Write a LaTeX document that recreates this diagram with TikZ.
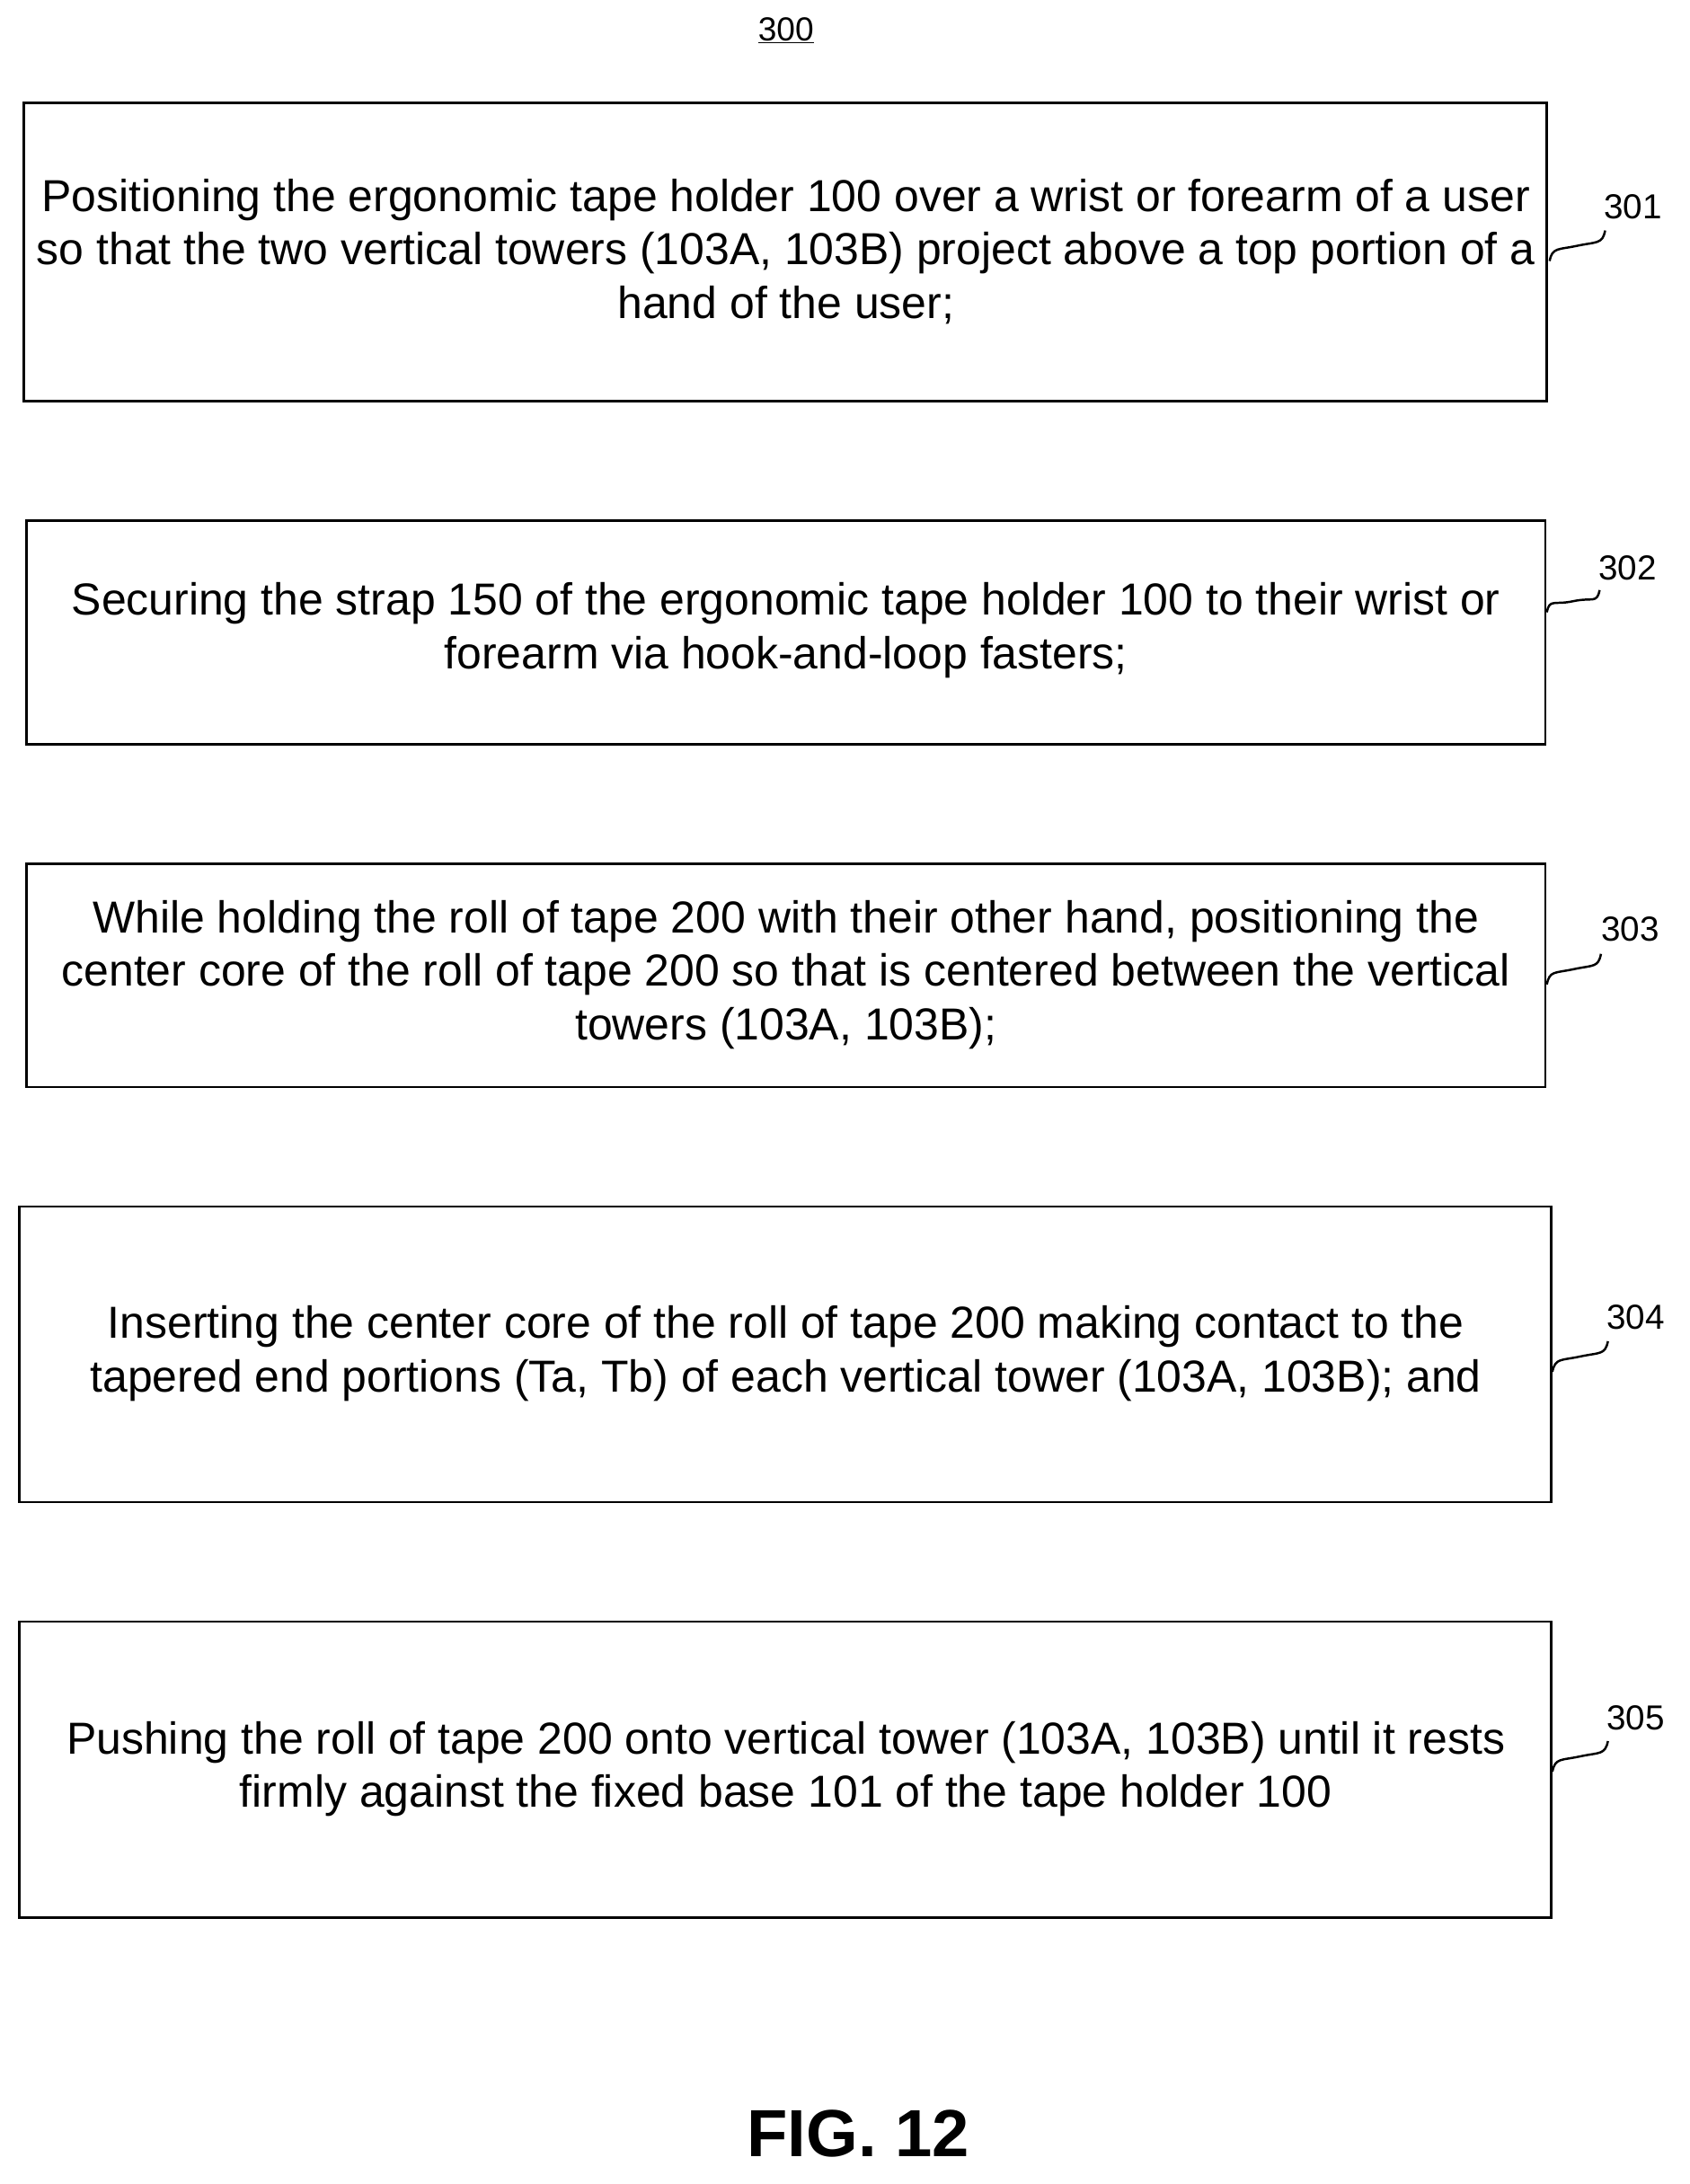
\documentclass[tikz,border=0pt]{standalone}
\usepackage{fontspec}
\usetikzlibrary{calc}
\setmainfont{Liberation Sans}
\begin{document}
\begin{tikzpicture}[x=1pt,y=1pt,
  stepbox/.style={draw,line width=1.6pt,inner sep=0pt},
  steptext/.style={align=center,font=\fontsize{32.3}{38.5}\selectfont},
  lbl/.style={font=\fontsize{25}{28}\selectfont},
  sq/.style={line width=1.6pt}]
\useasboundingbox (0,0) rectangle (1217,-1573);
\node[font=\fontsize{24}{28}\selectfont] (t300) at (566,-22) {\underline{300}};
% boxes
\draw[stepbox] (17,-74) rectangle (1114,-289);
\node[steptext] (s1) at (566,-181) {Positioning the ergonomic tape holder 100 over a wrist or forearm of a user\\so that the two vertical towers (103A, 103B) project above a top portion of a\\hand of the user;};
\draw[stepbox] (19,-375) rectangle (1113,-536);
\node[steptext] (s2) at (566,-454) {Securing the strap 150 of the ergonomic tape holder 100 to their wrist or\\forearm via hook-and-loop fasters;};
\draw[stepbox] (19,-622) rectangle (1113,-783);
\node[steptext] (s3) at (566,-702) {While holding the roll of tape 200 with their other hand, positioning the\\center core of the roll of tape 200 so that is centered between the vertical\\towers (103A, 103B);};
\draw[stepbox] (14,-869) rectangle (1117,-1082);
\node[steptext] (s4) at (566,-975) {Inserting the center core of the roll of tape 200 making contact to the\\tapered end portions (Ta, Tb) of each vertical tower (103A, 103B); and};
\draw[stepbox] (14,-1168) rectangle (1117,-1381);
\node[steptext] (s5) at (566,-1274) {Pushing the roll of tape 200 onto vertical tower (103A, 103B) until it rests\\firmly against the fixed base 101 of the tape holder 100};
% labels
\node[lbl] (l1) at (1176,-149) {301};
\node[lbl] (l2) at (1172,-409) {302};
\node[lbl] (l3) at (1174,-669) {303};
\node[lbl] (l4) at (1178,-949) {304};
\node[lbl] (l5) at (1178,-1237) {305};
\coordinate (a1) at (1116,-188); \coordinate (b1) at (1156,-166);
\coordinate (a2) at (1114,-441); \coordinate (b2) at (1152,-425);
\coordinate (a3) at (1114,-709); \coordinate (b3) at (1153,-687);
\coordinate (a4) at (1118,-988); \coordinate (b4) at (1158,-966);
\coordinate (a5) at (1118,-1276); \coordinate (b5) at (1158,-1254);
\foreach \i in {1,...,5}{
  \draw[sq] (a\i) .. controls +(2,10) and +(-14,-3) .. ($(a\i)!0.5!(b\i)$) .. controls +(14,3) and +(-2,-10) .. (b\i);
}
\node[font=\bfseries\fontsize{48}{54}\selectfont] (fig) at (618,-1537) {FIG. 12};
\end{tikzpicture}
\end{document}
